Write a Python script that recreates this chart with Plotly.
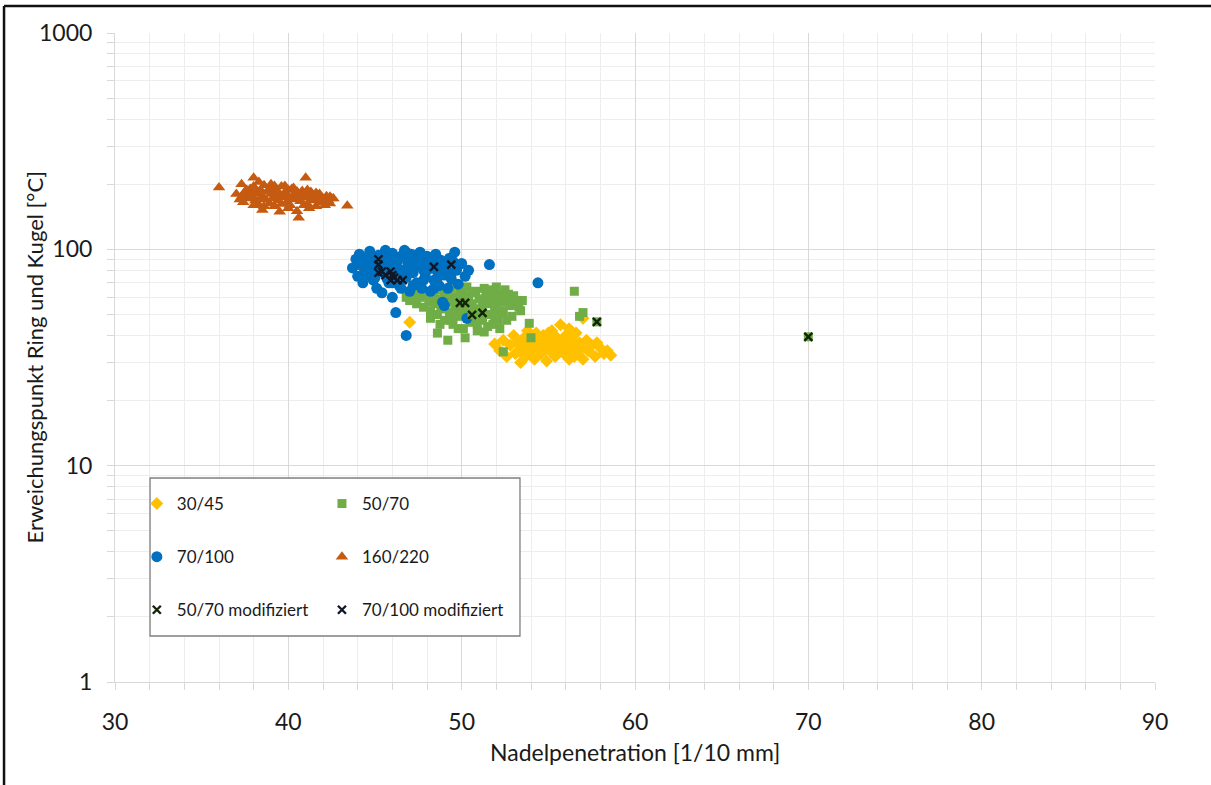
import plotly.graph_objects as go

# Penetration [1/10 mm] vs. softening point R&K [°C], one list of (x, y) pairs per grade
grade_30_45 = [
    (51.9, 36.5), (52.2, 34), (52.4, 38), (52.6, 32), (52.8, 36), (53.0, 40), (53.1, 33),
    (53.2, 37), (53.4, 30), (53.5, 35), (53.6, 39), (53.7, 32), (53.8, 42), (53.9, 36),
    (54.0, 34), (54.1, 38), (54.2, 31), (54.3, 41), (54.4, 35), (54.5, 37), (54.6, 33),
    (54.7, 40), (54.8, 36), (54.9, 30.5), (55.0, 38), (55.1, 34), (55.2, 42), (55.3, 36),
    (55.4, 32), (55.5, 39), (55.6, 35), (55.7, 44.8), (55.8, 37), (55.9, 33), (56.0, 40),
    (56.1, 35), (56.2, 31), (56.3, 38), (56.4, 34), (56.5, 36), (56.6, 41), (56.7, 33),
    (56.8, 37), (56.9, 35), (57.0, 31), (57.2, 38), (57.3, 34), (57.5, 36), (57.7, 32),
    (57.8, 37), (58.0, 35), (58.2, 33), (58.4, 34), (58.6, 32.4), (53.3, 34), (54.0, 37),
    (54.6, 36), (55.3, 33), (55.8, 35), (56.5, 32), (53.9, 39), (55.0, 41), (47.0, 46),
    (57.0, 48), (56.2, 43),
]

grade_50_70 = [
    (46.8, 60), (47.0, 58), (47.2, 62), (47.4, 56), (47.6, 60), (47.8, 54), (48.0, 63),
    (48.1, 58), (48.2, 52), (48.4, 61), (48.5, 56), (48.6, 50), (48.7, 65), (48.8, 59),
    (48.9, 53), (49.0, 47), (49.1, 62), (49.2, 57), (49.3, 51), (49.4, 66), (49.5, 45),
    (49.6, 60), (49.7, 54), (49.8, 49), (49.9, 64), (50.0, 58), (50.1, 43), (50.2, 52),
    (50.3, 67), (50.4, 61), (50.5, 46), (50.6, 56), (50.7, 50), (50.8, 64), (50.9, 42),
    (51.0, 59), (51.1, 53), (51.2, 47), (51.3, 66), (51.4, 62), (51.5, 44), (51.6, 56),
    (51.7, 50), (51.8, 64), (51.9, 60), (52.0, 53), (52.1, 47), (52.2, 62), (52.3, 57),
    (52.4, 51), (52.5, 65), (52.6, 59), (52.8, 55), (52.9, 49), (53.0, 61), (53.2, 56),
    (53.4, 52), (53.5, 58), (49.0, 56), (50.5, 55), (51.8, 45), (50.0, 62), (49.8, 43),
    (52.2, 43), (47.3, 59), (47.9, 61), (48.3, 57), (48.8, 55), (49.3, 59), (49.6, 52),
    (50.0, 50), (50.4, 58), (50.8, 53), (51.2, 57), (51.5, 60), (51.9, 55), (52.3, 52),
    (52.7, 62), (53.1, 58), (49.0, 64), (50.6, 63), (51.6, 65), (52.0, 67), (48.2, 48),
    (49.4, 47), (50.9, 45), (51.9, 49), (52.6, 47), (53.3, 54), (47.6, 63), (50.2, 60),
    (51.0, 48), (52.4, 58), (49.7, 57),
    (48.6, 41), (48.75, 45), (49.2, 38), (50.2, 39), (51.3, 41.5), (52.4, 33.6),
    (54.0, 39), (53.9, 45.5), (56.5, 64), (56.8, 49), (57.0, 51),
]

grade_70_100 = [
    (43.7, 82), (43.9, 90), (44.0, 75), (44.1, 95), (44.2, 86), (44.3, 70), (44.4, 80),
    (44.5, 92), (44.6, 76), (44.7, 98), (44.8, 84), (44.9, 72), (45.0, 89), (45.1, 66),
    (45.2, 94), (45.3, 79), (45.4, 63), (45.5, 86), (45.6, 99), (45.7, 73), (45.8, 91),
    (45.9, 82), (46.0, 60), (46.0, 96), (46.1, 77), (46.2, 51), (46.3, 88), (46.4, 68),
    (46.5, 93), (46.6, 80), (46.7, 99), (46.8, 40), (46.8, 74), (46.9, 86), (47.0, 64),
    (47.1, 95), (47.2, 78), (47.3, 90), (47.4, 70), (47.5, 84), (47.6, 97), (47.7, 66),
    (47.8, 88), (47.9, 75), (48.0, 93), (48.1, 81), (48.2, 64), (48.3, 86), (48.4, 72),
    (48.5, 95), (48.6, 79), (48.7, 68), (48.8, 89), (48.9, 57), (49.0, 76), (49.1, 84),
    (49.2, 66), (49.3, 91), (49.4, 73), (49.6, 97), (49.7, 80), (49.8, 69), (50.0, 86),
    (50.2, 75), (50.4, 80), (50.3, 48), (51.6, 85), (54.4, 70), (44.6, 88), (45.3, 84),
    (46.2, 90), (47.0, 82), (47.8, 80), (48.6, 86), (49.5, 88), (45.8, 70), (49.0, 55),
    (46.5, 66), (44.0, 85), (44.3, 88), (44.8, 78), (45.3, 92), (45.7, 80), (46.2, 84),
    (46.6, 76), (47.0, 91), (47.4, 86), (47.8, 72), (48.2, 90), (48.6, 74), (49.0, 82),
    (49.4, 78), (49.8, 84), (45.0, 74), (46.0, 70), (47.2, 68), (48.4, 66), (44.5, 83),
    (46.8, 97),
]

grade_160_220 = [
    (36.0, 193), (37.0, 180), (37.2, 170), (37.3, 200), (37.4, 165), (37.5, 185), (37.6, 178),
    (37.8, 190), (37.9, 175), (38.0, 214), (38.0, 195), (38.1, 168), (38.2, 182), (38.3, 160),
    (38.4, 188), (38.5, 152), (38.5, 176), (38.6, 198), (38.7, 170), (38.8, 185), (38.9, 163),
    (39.0, 180), (39.0, 192), (39.1, 172), (39.2, 158), (39.3, 186), (39.4, 168), (39.5, 178),
    (39.5, 149), (39.6, 195), (39.7, 174), (39.8, 183), (39.9, 165), (40.0, 188), (40.0, 176),
    (40.1, 160), (40.2, 190), (40.3, 170), (40.4, 181), (40.5, 150), (40.6, 140), (40.6, 178),
    (40.7, 167), (40.8, 186), (40.9, 173), (41.0, 214), (41.0, 182), (41.1, 162), (41.2, 176),
    (41.3, 184), (41.4, 168), (41.5, 178), (41.6, 158), (41.7, 172), (41.8, 180), (41.9, 165),
    (42.0, 170), (42.1, 160), (42.2, 176), (42.3, 168), (42.4, 163), (42.5, 172), (42.6, 172),
    (43.4, 159), (38.3, 205), (39.0, 200), (39.8, 196), (40.3, 192), (37.7, 172), (41.2, 155),
    (37.3, 175), (37.6, 188), (38.1, 180), (38.4, 172), (38.9, 190), (39.2, 176), (39.4, 185),
    (39.9, 178), (40.2, 174), (40.5, 185), (40.8, 176), (41.1, 188), (41.4, 172), (41.8, 170),
    (42.2, 165), (39.6, 162), (40.0, 155), (38.6, 158), (41.6, 182), (42.4, 175), (38.0, 160),
    (39.2, 196), (40.9, 160), (37.9, 182),
]

grade_50_70_mod = [
    (49.9, 56.5), (50.2, 56.5), (50.6, 49.8), (51.2, 50.8), (57.8, 46.2), (70.0, 39.4),
]

grade_70_100_mod = [
    (45.2, 90), (45.2, 85), (45.4, 79), (45.2, 78), (45.6, 76), (45.9, 79), (46.0, 76),
    (46.1, 74), (46.3, 72), (46.6, 72), (45.9, 72), (48.4, 83), (49.4, 85),
]

FONT_FAMILY = "Lato, 'Open Sans', sans-serif"
TICK_FONT = dict(family=FONT_FAMILY, size=23, color="#1a1a1a")
GRID_MAJOR = "#d9d9d9"
GRID_MINOR = "#ededed"


def xs(pts):
    return [p[0] for p in pts]


def ys(pts):
    return [p[1] for p in pts]


fig = go.Figure()

series = [
    ("30/45", grade_30_45, "diamond", 10, "#FFC000", "legend"),
    ("50/70", grade_50_70, "square", 9, "#70AD47", "legend2"),
    ("70/100", grade_70_100, "circle", 11, "#0070C0", "legend"),
    ("160/220", grade_160_220, "triangle-up", 11, "#C55A11", "legend2"),
]
for name, pts, sym, size, col, leg in series:
    fig.add_trace(go.Scatter(
        x=xs(pts), y=ys(pts), mode="markers", name=name,
        legend=leg, legendgroup=name,
        marker=dict(symbol=sym, size=size, color=col, line=dict(width=0)),
    ))

# modified 50/70: green square background with a black cross on top
fig.add_trace(go.Scatter(
    x=xs(grade_50_70_mod), y=ys(grade_50_70_mod), mode="markers",
    showlegend=False, legendgroup="50/70 modifiziert",
    marker=dict(symbol="square", size=9, color="#70AD47", line=dict(width=0)),
))
fig.add_trace(go.Scatter(
    x=xs(grade_50_70_mod), y=ys(grade_50_70_mod), mode="markers",
    name="50/70 modifiziert", legend="legend", legendgroup="50/70 modifiziert",
    marker=dict(symbol="x-thin", size=8, color="#1e3a0e",
                line=dict(width=2.4, color="#14240a")),
))
fig.add_trace(go.Scatter(
    x=xs(grade_70_100_mod), y=ys(grade_70_100_mod), mode="markers",
    name="70/100 modifiziert", legend="legend2", legendgroup="70/100 modifiziert",
    marker=dict(symbol="x-thin", size=8, color="#101828",
                line=dict(width=2.4, color="#101828")),
))

legend_common = dict(
    font=dict(family=FONT_FAMILY, size=17, color="#1a1a1a"),
    bgcolor="rgba(0,0,0,0)", borderwidth=0,
    traceorder="grouped", tracegroupgap=28,
    xanchor="left", yanchor="top", itemwidth=30,
)

fig.update_layout(
    width=1211, height=785,
    margin=dict(l=115, r=56, t=33, b=103),
    paper_bgcolor="white", plot_bgcolor="white",
    legend=dict(x=0.021, y=0.302, **legend_common),
    legend2=dict(x=0.199, y=0.302, **legend_common),
    xaxis=dict(
        range=[30, 90], tick0=30, dtick=10, automargin=False,
        showgrid=True, gridcolor=GRID_MAJOR, gridwidth=1, zeroline=False,
        showline=True, linecolor=GRID_MAJOR, linewidth=1,
        ticks="outside", ticklen=7, tickcolor=GRID_MAJOR,
        tickfont=TICK_FONT, ticklabelstandoff=12,
        minor=dict(dtick=2, showgrid=True, gridcolor=GRID_MINOR,
                   ticks="outside", ticklen=7, tickcolor=GRID_MAJOR),
    ),
    yaxis=dict(
        type="log", range=[0, 3], tick0=0, dtick=1, exponentformat="none",
        automargin=False,
        showgrid=True, gridcolor=GRID_MAJOR, gridwidth=1, zeroline=False,
        showline=True, linecolor=GRID_MAJOR, linewidth=1,
        ticks="outside", ticklen=7, tickcolor=GRID_MAJOR,
        tickfont=TICK_FONT, ticklabelstandoff=10,
        minor=dict(dtick="D1", showgrid=True, gridcolor=GRID_MINOR,
                   ticks="outside", ticklen=7, tickcolor=GRID_MAJOR),
    ),
    annotations=[
        dict(text="Nadelpenetration [1/10 mm]", xref="paper", yref="paper",
             x=0.5, y=-0.108, xanchor="center", yanchor="middle", showarrow=False,
             font=TICK_FONT),
        dict(text="Erweichungspunkt Ring und Kugel [°C]", xref="paper", yref="paper",
             x=-0.077, y=0.5, xanchor="center", yanchor="middle", showarrow=False,
             textangle=-90, font=dict(family=FONT_FAMILY, size=22, color="#1a1a1a")),
    ],
    shapes=[
        # legend frame
        dict(type="rect", xref="paper", yref="paper", x0=0.0337, x1=0.3894,
             y0=0.0709, y1=0.3143, line=dict(color="#7f7f7f", width=1.3),
             fillcolor="white", layer="above"),
        # outer frame (top and left edge)
        dict(type="line", xref="paper", yref="paper", x0=-0.1067, x1=1.06,
             y0=1.0416, y1=1.0416, line=dict(color="#111111", width=2.5)),
        dict(type="line", xref="paper", yref="paper", x0=-0.1067, x1=-0.1067,
             y0=-0.17, y1=1.0416, line=dict(color="#111111", width=2.5)),
    ],
)

fig.write_html("out.html")
